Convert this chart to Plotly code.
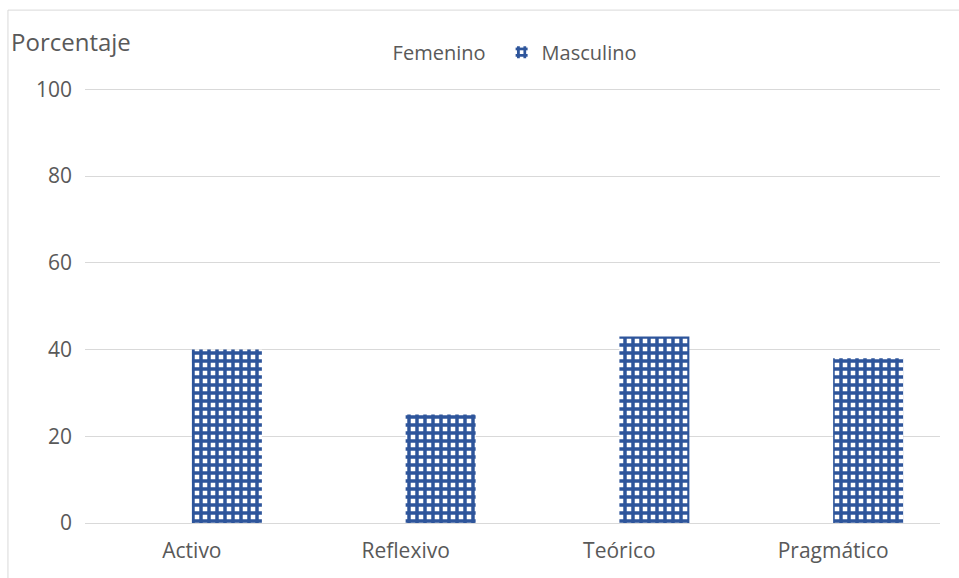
import plotly.graph_objects as go

categories = ["Activo", "Reflexivo", "Teórico", "Pragmático"]
femenino = [0, 0, 0, 0]
masculino = [40, 25, 43, 38]
y_ticks = [0, 20, 40, 60, 80, 100]

font_family = "'Open Sans', sans-serif"
gray = "#595959"

fig = go.Figure()
fig.add_trace(go.Bar(
    name="Femenino", x=categories, y=femenino,
    marker=dict(color="white", line=dict(width=0)),
))
fig.add_trace(go.Bar(
    name="Masculino", x=categories, y=masculino,
    marker=dict(
        color="#2F5597",
        line=dict(width=0),
        pattern=dict(shape="+", fgcolor="#2E559B", bgcolor="white", size=8,
                     solidity=0.68, fgopacity=1, fillmode="replace"),
    ),
))

fig.update_layout(
    width=959, height=578,
    margin=dict(l=85, r=19, t=85, b=55),
    paper_bgcolor="white", plot_bgcolor="white",
    barmode="group", bargap=0.345, bargroupgap=0,
    font=dict(family=font_family, size=20, color=gray),
    showlegend=True,
    legend=dict(orientation="h", x=0.313, xanchor="left", y=1.075, yanchor="middle",
                font=dict(size=20, color=gray), itemwidth=30,
                entrywidth=104, entrywidthmode="pixels"),
    xaxis=dict(showgrid=False, showline=False, ticks="", ticklabelstandoff=13,
               tickfont=dict(size=21, color=gray)),
    yaxis=dict(range=[0, 101], tickvals=y_ticks, showgrid=True, gridcolor="#D9D9D9", gridwidth=1,
               zeroline=True, zerolinecolor="#D9D9D9", zerolinewidth=1, showline=False,
               ticks="", ticklabelstandoff=12, tickfont=dict(size=21, color=gray)),
    annotations=[dict(text="Porcentaje", xref="paper", yref="paper", x=-0.089, y=1.1,
                      xanchor="left", yanchor="middle", showarrow=False,
                      font=dict(size=24, color=gray))],
    shapes=[dict(type="rect", xref="paper", yref="paper", x0=-0.0901, y0=-0.3, x1=1.2, y1=1.171,
                 line=dict(color="#D9D9D9", width=1), fillcolor="rgba(0,0,0,0)", layer="below")],
)

fig.write_html("out.html")
